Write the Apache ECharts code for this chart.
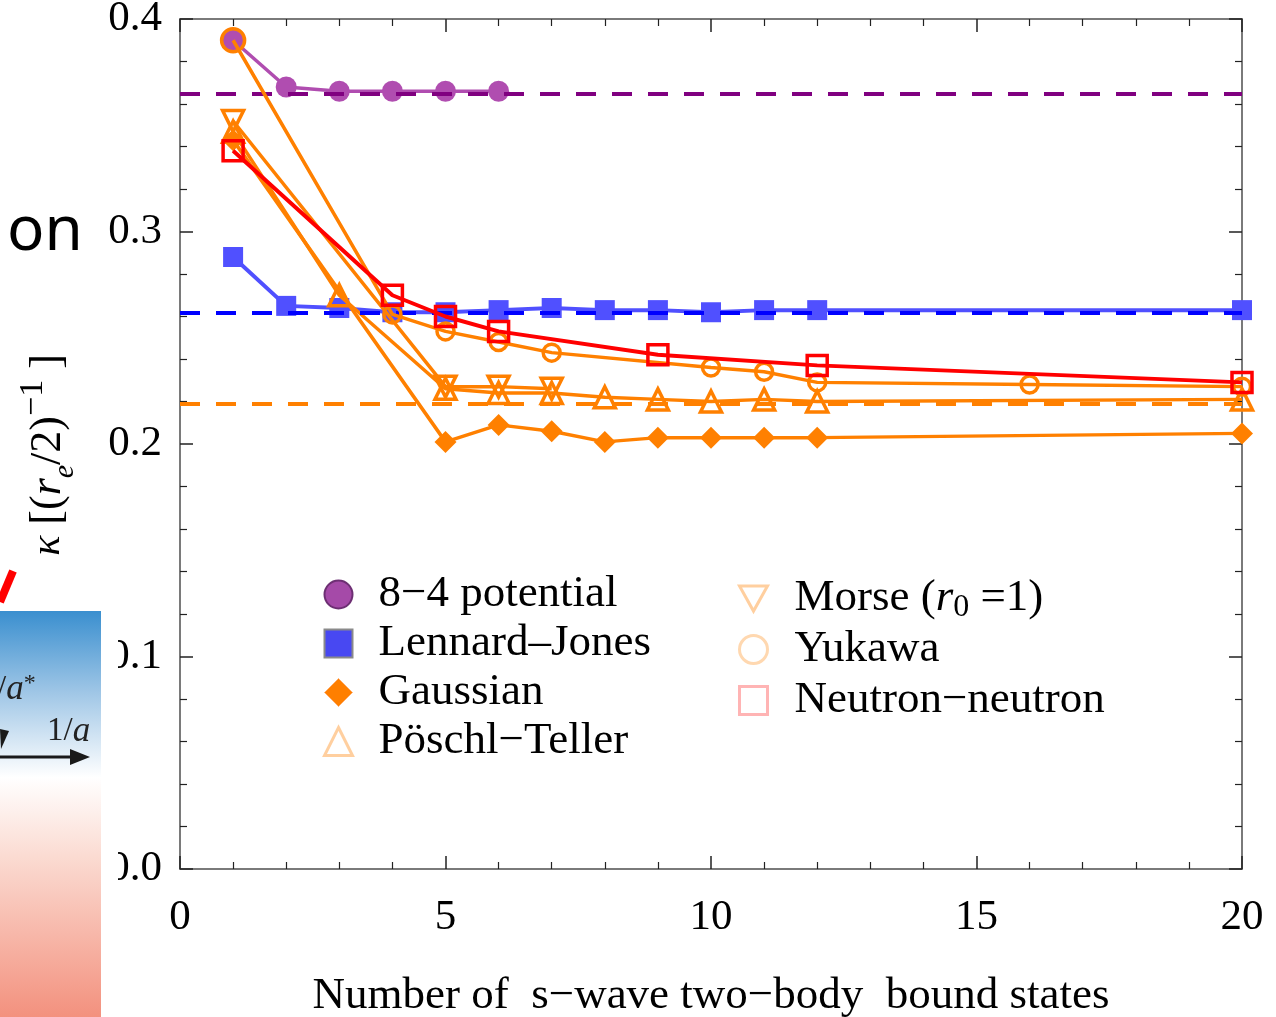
<!DOCTYPE html>
<html><head><meta charset="utf-8">
<script src="https://cdn.jsdelivr.net/npm/echarts@6/dist/echarts.min.js"></script>
<style>html,body{margin:0;padding:0;background:#fff}#c{width:1276px;height:1017px}</style>
</head><body><div id="c"></div>
<script>
// ---- data ----
const x84 = [1, 2, 3, 4, 5, 6];
const y84 = [0.390, 0.368, 0.366, 0.366, 0.366, 0.366];
const xLJ = [1, 2, 3, 4, 5, 6, 7, 8, 9, 10, 11, 12, 20];
const yLJ = [0.288, 0.265, 0.264, 0.262, 0.262, 0.263, 0.264, 0.263, 0.263, 0.262, 0.263, 0.263, 0.263];
const xGauss = [1, 5, 6, 7, 8, 9, 10, 11, 12, 20];
const yGauss = [0.343, 0.201, 0.209, 0.206, 0.201, 0.203, 0.203, 0.203, 0.203, 0.205];
const xPT = [1, 3, 5, 6, 7, 8, 9, 10, 11, 12, 20];
const yPT = [0.347, 0.270, 0.226, 0.224, 0.224, 0.222, 0.221, 0.220, 0.221, 0.220, 0.221];
const xMorse = [1, 5, 6, 7];
const yMorse = [0.352, 0.227, 0.227, 0.226];
const xYuk = [1, 4, 5, 6, 7, 10, 11, 12, 16, 20];
const yYuk = [0.390, 0.261, 0.253, 0.248, 0.243, 0.236, 0.234, 0.229, 0.228, 0.227];
const xNN = [1, 4, 5, 6, 9, 12, 20];
const yNN = [0.338, 0.270, 0.260, 0.253, 0.242, 0.237, 0.229];
const refPurple = 0.365, refBlue = 0.262, refOrange = 0.219;
const xTicks = [0, 5, 10, 15, 20];
const yTicks = [0.0, 0.1, 0.2, 0.3, 0.4];
const names = ['8\u22124 potential', 'Lennard\u2013Jones', 'Gaussian', 'P\u00f6schl\u2212Teller', 'Morse', 'Yukawa', 'Neutron\u2212neutron'];

const pair = (xs, ys) => xs.map((x, i) => [x, ys[i]]);
const SERIF = '"Liberation Serif", "Times New Roman", serif';
const downTri = 'path://M0,0 L10,0 L5,9 Z';
const OR = '#ff8000';

function dashLine(v, color) {
  return { silent: true, symbol: 'none', precision: 5, label: { show: false },
    lineStyle: { color: color, type: [20, 16], width: 4 },
    emphasis: { disabled: true }, data: [{ yAxis: v }] };
}

const chart = echarts.init(document.getElementById('c'), null, { renderer: 'canvas' });

const axisCommon = {
  type: 'value',
  axisLine: { show: true, onZero: false, lineStyle: { color: '#7a7a7a', width: 2 } },
  axisTick: { show: true, inside: true, length: 13, lineStyle: { color: '#222', width: 1.5 } },
  minorTick: { show: true, splitNumber: 5, length: 7, lineStyle: { color: '#222', width: 1.2 } },
  splitLine: { show: false },
  minorSplitLine: { show: false }
};

const option = {
  animation: false,
  backgroundColor: '#fff',
  grid: { left: 180, right: 34, top: 19, bottom: 148, containLabel: false, outerBoundsMode: 'none' },
  xAxis: [
    Object.assign({}, axisCommon, {
      min: xTicks[0], max: xTicks[xTicks.length - 1], interval: 5, position: 'bottom',
      axisLabel: { margin: 27, fontFamily: SERIF, fontSize: 43, color: '#000' },
      name: 'Number of  s\u2212wave two\u2212body  bound states',
      nameLocation: 'middle', nameGap: 105,
      nameTextStyle: { fontFamily: SERIF, fontSize: 45, color: '#000' }
    }),
    Object.assign({}, axisCommon, {
      min: xTicks[0], max: xTicks[xTicks.length - 1], interval: 5, position: 'top',
      axisLabel: { show: false }
    })
  ],
  yAxis: [
    Object.assign({}, axisCommon, {
      min: yTicks[0], max: yTicks[yTicks.length - 1], interval: 0.1, position: 'left',
      axisLabel: { margin: 18, fontFamily: SERIF, fontSize: 43, color: '#000',
        formatter: v => v.toFixed(1) },
      name: '{k|\u03ba}{n| [(}{i|r}{sub|e}{n|/2)}{sup|\u22121}{n| ]}',
      nameLocation: 'middle', nameGap: 100, nameRotate: 90,
      nameTextStyle: {
        color: '#000',
        padding: [0, 22, 0, 0],
        rich: {
          k: { fontFamily: SERIF, fontStyle: 'italic', fontSize: 42, lineHeight: 64, verticalAlign: 'middle' },
          n: { fontFamily: SERIF, fontSize: 44, lineHeight: 64, verticalAlign: 'middle' },
          i: { fontFamily: SERIF, fontStyle: 'italic', fontSize: 44, lineHeight: 64, verticalAlign: 'middle' },
          sub: { fontFamily: SERIF, fontStyle: 'italic', fontSize: 30, lineHeight: 30, verticalAlign: 'bottom' },
          sup: { fontFamily: SERIF, fontSize: 34, lineHeight: 34, verticalAlign: 'top' }
        }
      }
    }),
    Object.assign({}, axisCommon, {
      min: yTicks[0], max: yTicks[yTicks.length - 1], interval: 0.1, position: 'right',
      axisLabel: { show: false }
    })
  ],
  legend: [
    {
      orient: 'vertical', left: 318, top: 565, itemWidth: 28, itemHeight: 28, itemGap: 0,
      selectedMode: false,
      textStyle: { fontFamily: SERIF, fontSize: 45, color: '#000', lineHeight: 49, padding: [0, 0, 0, 21] },
      data: [
        { name: names[0], icon: 'circle', itemStyle: { color: '#a54aa8', borderColor: '#6d2f73', borderWidth: 2 } },
        { name: names[1], icon: 'rect', itemStyle: { color: '#4848f2', borderColor: '#8a8a8a', borderWidth: 2 } },
        { name: names[2], icon: 'diamond', itemStyle: { color: '#ff7f00', borderColor: '#ffb070', borderWidth: 1 } },
        { name: names[3], icon: 'triangle', itemStyle: { color: 'rgba(255,255,255,0)', borderColor: '#ffcf9f', borderWidth: 3 } }
      ]
    },
    {
      orient: 'vertical', left: 733, top: 568, itemWidth: 28, itemHeight: 28, itemGap: 0,
      selectedMode: false,
      formatter: function (n) { return n === 'Morse' ? 'Morse ({i|r}{s|0} =1)' : n; },
      textStyle: { fontFamily: SERIF, fontSize: 45, color: '#000', lineHeight: 51, padding: [0, 0, 0, 22],
        rich: {
          i: { fontFamily: SERIF, fontStyle: 'italic', fontSize: 45, lineHeight: 51, verticalAlign: 'middle' },
          s: { fontFamily: SERIF, fontSize: 32, lineHeight: 32, verticalAlign: 'bottom' }
        } },
      data: [
        { name: names[4], icon: downTri, itemStyle: { color: 'rgba(255,255,255,0)', borderColor: '#ffcf9f', borderWidth: 3 } },
        { name: names[5], icon: 'circle', itemStyle: { color: 'rgba(255,255,255,0)', borderColor: '#ffd8b0', borderWidth: 3 } },
        { name: names[6], icon: 'rect', itemStyle: { color: 'rgba(255,255,255,0)', borderColor: '#ffb4b4', borderWidth: 3 } }
      ]
    }
  ],
  series: [
    {
      name: names[0], type: 'line', data: pair(x84, y84), z: 3,
      symbol: 'circle', symbolSize: 21,
      itemStyle: { color: '#b04db0' }, lineStyle: { color: '#b04db0', width: 3.5 },
      markLine: dashLine(refPurple, '#800080')
    },
    {
      name: names[1], type: 'line', data: pair(xLJ, yLJ), z: 3,
      symbol: 'rect', symbolSize: 20,
      itemStyle: { color: '#5050ff' }, lineStyle: { color: '#5050ff', width: 4 },
      markLine: dashLine(refBlue, '#0000ff')
    },
    {
      name: names[2], type: 'line', data: pair(xGauss, yGauss), z: 4,
      symbol: 'diamond', symbolSize: 22,
      itemStyle: { color: OR }, lineStyle: { color: OR, width: 3.5 },
      markLine: dashLine(refOrange, OR)
    },
    {
      name: names[3], type: 'line', data: pair(xPT, yPT), z: 4,
      symbol: 'triangle', symbolSize: 21,
      itemStyle: { color: 'rgba(255,255,255,0)', borderColor: OR, borderWidth: 3.5 },
      lineStyle: { color: OR, width: 3.5 }
    },
    {
      name: names[4], type: 'line', data: pair(xMorse, yMorse), z: 4,
      symbol: downTri, symbolSize: 21,
      itemStyle: { color: 'rgba(255,255,255,0)', borderColor: OR, borderWidth: 3.5 },
      lineStyle: { color: OR, width: 3.5 }
    },
    {
      name: names[5], type: 'line', data: pair(xYuk, yYuk), z: 5,
      symbol: 'circle', symbolSize: (v, p) => (p.dataIndex === 0 ? 23 : 17),
      itemStyle: { color: 'rgba(255,255,255,0)', borderColor: OR, borderWidth: 3.5 },
      lineStyle: { color: OR, width: 3.5 }
    },
    {
      name: names[6], type: 'line', data: pair(xNN, yNN), z: 6,
      symbol: 'rect', symbolSize: 20,
      itemStyle: { color: 'rgba(255,255,255,0)', borderColor: '#ff0000', borderWidth: 3.5 },
      lineStyle: { color: '#ff0000', width: 4 }
    }
  ],
  graphic: [
    { type: 'text', left: 7, top: 201, z: 100,
      style: { text: 'on', font: '62px "Noto Sans", sans-serif', fill: '#000' } },
    { type: 'line', z: 100, shape: { x1: 0, y1: 602, x2: 13, y2: 571 },
      style: { stroke: '#ff0000', lineWidth: 8 } },
    { type: 'rect', z: 100, shape: { x: 0, y: 611, width: 118, height: 406 },
      style: { fill: '#ffffff' } },
    { type: 'rect', z: 101, shape: { x: 0, y: 611, width: 101, height: 406 },
      style: { fill: new echarts.graphic.LinearGradient(0, 0, 0, 1, [
        { offset: 0, color: '#3a8fcf' },
        { offset: 0.2, color: '#9fc6e6' },
        { offset: 0.41, color: '#ffffff' },
        { offset: 0.6, color: '#fbdcd3' },
        { offset: 1, color: '#f3917e' }
      ]) } },
    { type: 'line', z: 102, shape: { x1: 0, y1: 757, x2: 76, y2: 757 },
      style: { stroke: '#1a1a1a', lineWidth: 3 } },
    { type: 'polygon', z: 102, shape: { points: [[70, 749], [90, 757], [70, 765]] },
      style: { fill: '#1a1a1a' } },
    { type: 'polygon', z: 102, shape: { points: [[0, 729], [9, 731], [1, 749]] },
      style: { fill: '#1a1a1a' } },
    { type: 'text', z: 102, left: 47, top: 714,
      style: { text: '1/{i|a}', fill: '#222', font: '33px "Liberation Serif", serif',
        rich: { i: { fontFamily: SERIF, fontStyle: 'italic', fontSize: 35, fill: '#222' } } } },
    { type: 'text', z: 102, left: -3, top: 672,
      style: { text: '/{i|a}{s|*}', fill: '#222', font: '33px "Liberation Serif", serif',
        rich: { i: { fontFamily: SERIF, fontStyle: 'italic', fontSize: 35, fill: '#222' },
                s: { fontFamily: SERIF, fontSize: 24, fill: '#222', verticalAlign: 'top' } } } }
  ]
};
chart.setOption(option);
</script>
</body></html>
